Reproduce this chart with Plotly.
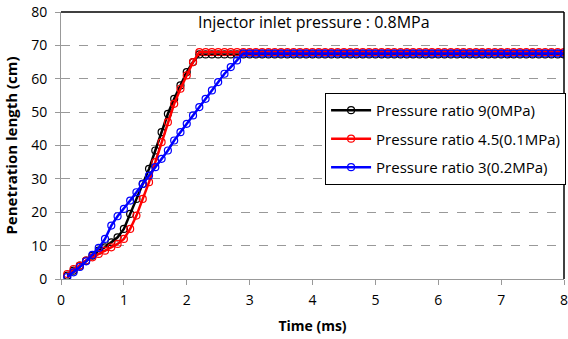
import plotly.graph_objects as go

# Time axis (ms), 0.1 ms steps
time_ms = [round(0.1 * i, 1) for i in range(1, 81)]

# Early portion values (0.1 .. up to plateau), then plateau to 8 ms
ratio9_rise = [1.0, 2.5, 4.0, 5.5, 7.0, 8.5, 9.5, 11.0, 12.5, 15.0,
               19.5, 24.0, 28.5, 33.0, 38.5, 44.0, 49.5, 54.0, 58.0, 62.0,
               65.0]
ratio9_plateau = 67.3

ratio45_rise = [1.5, 3.0, 4.0, 5.5, 6.5, 7.5, 8.5, 9.5, 10.5, 12.0,
                15.0, 19.0, 24.0, 29.0, 35.0, 41.0, 47.0, 52.5, 57.0, 61.0,
                65.0]
ratio45_plateau = 68.0

ratio3_rise = [0.6, 2.0, 3.6, 5.3, 7.2, 9.3, 12.0, 16.0, 18.8, 21.0,
               23.5, 26.0, 28.5, 31.0, 33.5, 36.0, 38.5, 41.5, 44.0, 46.5,
               49.0, 51.5, 54.0, 56.5, 59.0, 61.5, 63.5, 65.5]
ratio3_plateau = 67.6

ratio9 = ratio9_rise + [ratio9_plateau] * (len(time_ms) - len(ratio9_rise))
ratio45 = ratio45_rise + [ratio45_plateau] * (len(time_ms) - len(ratio45_rise))
ratio3 = ratio3_rise + [ratio3_plateau] * (len(time_ms) - len(ratio3_rise))

series_names = ["Pressure ratio 9(0MPa)", "Pressure ratio 4.5(0.1MPa)", "Pressure ratio 3(0.2MPa)"]
series_values = [ratio9, ratio45, ratio3]
series_colors = ["#000000", "#ff0000", "#0000ff"]

x_ticks = [0, 1, 2, 3, 4, 5, 6, 7, 8]
y_ticks = [0, 10, 20, 30, 40, 50, 60, 70, 80]

fig = go.Figure()
for i, (name, vals, col) in enumerate(zip(series_names, series_values, series_colors)):
    fig.add_trace(go.Scatter(
        x=time_ms, y=vals, name=name, mode="lines+markers",
        legendgroup=f"g{i}",
        line=dict(color=col, width=2.5),
        marker=dict(symbol="circle-open", size=7, color=col, line=dict(width=1.2, color=col)),
    ))

font_family = "Open Sans, Liberation Sans, sans-serif"

fig.update_layout(
    width=568, height=339,
    margin=dict(l=61, r=4, t=12, b=60, autoexpand=False),
    paper_bgcolor="white", plot_bgcolor="white",
    font=dict(family=font_family, color="#000000"),
    showlegend=True,
    legend=dict(
        x=0.525, y=0.697, xanchor="left", yanchor="top",
        bgcolor="white", bordercolor="#000000", borderwidth=1,
        font=dict(size=15, family=font_family),
        tracegroupgap=6, itemwidth=40,
    ),
    xaxis=dict(
        range=[0, 8], tickvals=x_ticks, ticktext=[str(t) for t in x_ticks],
        showgrid=False, zeroline=False, automargin=False,
        showline=True, linecolor="#999999", linewidth=1,
        ticks="outside", ticklen=5, tickcolor="#999999",
        ticklabeloverflow="allow", ticklabelstandoff=3,
        tickfont=dict(size=14), title=dict(text="<b>Time (ms)</b>", font=dict(size=14), standoff=13),
    ),
    yaxis=dict(
        range=[0, 80], tickvals=y_ticks, ticktext=[str(t) for t in y_ticks],
        showgrid=True, gridcolor="#999999", griddash="dash", gridwidth=1,
        zeroline=False, automargin=False,
        showline=True, linecolor="#999999", linewidth=1,
        ticks="outside", ticklen=5, tickcolor="#999999",
        ticklabeloverflow="allow", ticklabelstandoff=5,
        tickfont=dict(size=14), title=dict(text="<b>Penetration length (cm)</b>", font=dict(size=15), standoff=9),
    ),
    shapes=[
        dict(type="line", xref="paper", yref="paper", x0=0, x1=1, y0=1, y1=1,
             line=dict(color="#000000", width=1.5)),
        dict(type="line", xref="paper", yref="paper", x0=1, x1=1, y0=0, y1=1,
             line=dict(color="#000000", width=1.5)),
    ],
    annotations=[
        dict(text="Injector inlet pressure : 0.8MPa", xref="paper", yref="paper",
             x=0.503, y=0.9625, xanchor="center", yanchor="middle", showarrow=False,
             font=dict(size=16, family=font_family)),
    ],
)

fig.write_html("out.html", config={"displayModeBar": False},
               post_script="document.body.style.margin='0';")
